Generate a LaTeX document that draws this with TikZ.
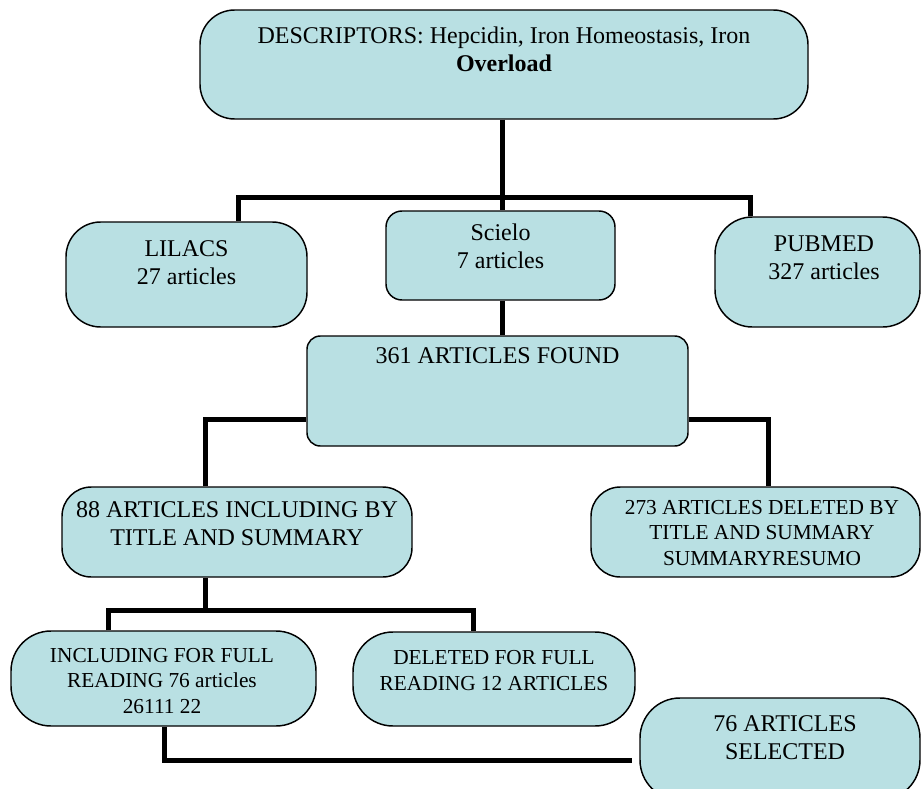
\documentclass[tikz,border=0pt]{standalone}
\usepackage{fontspec}
\setmainfont{Liberation Serif}
\definecolor{boxfill}{RGB}{185,224,227}
\begin{document}
\begin{tikzpicture}[x=0.75pt,y=-0.75pt,
  box/.style={draw=black,line width=1.1pt,fill=boxfill,rounded corners=#1},
  box/.default=22pt,
  txt/.style={align=center,font=\fontsize{18}{21}\selectfont,inner sep=0pt},
  smalltxt/.style={align=center,font=\fontsize{16}{19}\selectfont,inner sep=0pt},
  link/.style={line width=3.75pt}]
\useasboundingbox (0,0) rectangle (922,789);
\clip (0,0) rectangle (922,789);
\node[box=26pt,minimum width=456pt,minimum height=81.75pt] (top)at(504,64.5){};
\node[box=26pt,minimum width=180.75pt,minimum height=78.75pt] (lilacs)at(186.5,274.5){};
\node[box=12pt,minimum width=171.75pt,minimum height=66.75pt] (scielo)at(500.5,255.5){};
\node[box=28pt,minimum width=153.75pt,minimum height=82.5pt] (pubmed)at(817.5,272){};
\node[box=10pt,minimum width=285.75pt,minimum height=82.5pt] (found)at(497.5,391){};
\node[box=22pt,minimum width=262.5pt,minimum height=67.5pt] (incl88)at(237,532){};
\node[box=22pt,minimum width=246.75pt,minimum height=67.5pt] (del273)at(755.5,532){};
\node[box=30pt,minimum width=228.75pt,minimum height=71.25pt] (full76)at(163.5,678.5){};
\node[box=30pt,minimum width=211.5pt,minimum height=70.5pt] (del12)at(494,679){};
\node[box=30pt,minimum width=210pt,minimum height=76.5pt] (sel76)at(780,749){};
\node[txt] (topT)at(504,49){DESCRIPTORS: Hepcidin, Iron Homeostasis, Iron\\\textbf{Overload}};
\node[txt] (lilacsT)at(186.5,262.5){LILACS\\27 articles};
\node[txt] (scieloT)at(500.5,246){Scielo\\7 articles};
\node[txt] (pubmedT)at(824,257.5){PUBMED\\327 articles};
\node[txt] (foundT)at(497.5,356){361 ARTICLES FOUND};
\node[txt] (incl88T)at(237,524){88 ARTICLES INCLUDING BY\\TITLE AND SUMMARY};
\node[smalltxt] (del273T)at(762,533){273 ARTICLES DELETED BY\\TITLE AND SUMMARY\\SUMMARYRESUMO};
\node[smalltxt] (full76T)at(162,681){INCLUDING FOR FULL\\READING 76 articles\\26111 22};
\node[smalltxt] (del12T)at(494,670.5){DELETED FOR FULL\\READING 12 ARTICLES};
\node[txt] (sel76T)at(785,738){76 ARTICLES\\SELECTED};
\coordinate (hub)at(502,197);
\coordinate (barL)at(238,197);
\coordinate (barR)at(750,197);
\coordinate (splitL)at(205,419);
\coordinate (splitR)at(768,419);
\coordinate (fork)at(205,610);
\coordinate (forkL)at(108,610);
\coordinate (forkR)at(473,610);
\coordinate (joinL)at(164,760);
\coordinate (joinR)at(632,760);
\draw [link] (top.south -| hub)--(scielo.north -| hub);
\draw [link] (lilacs.north -| barL)--(barL)--(barR)--(pubmed.north -| barR);
\draw [link] (scielo.south -| hub)--(found.north -| hub);
\draw [link] (incl88.north -| splitL)--(splitL)--(found.west |- splitL);
\draw [link] (found.east |- splitR)--(splitR)--(del273.north -| splitR);
\draw [link] (incl88.south -| fork)--(fork);
\draw [link] (full76.north -| forkL)--(forkL)--(forkR)--(del12.north -| forkR);
\draw [link] (full76.south -| joinL)--(joinL)--(joinR);
\end{tikzpicture}
\end{document}
